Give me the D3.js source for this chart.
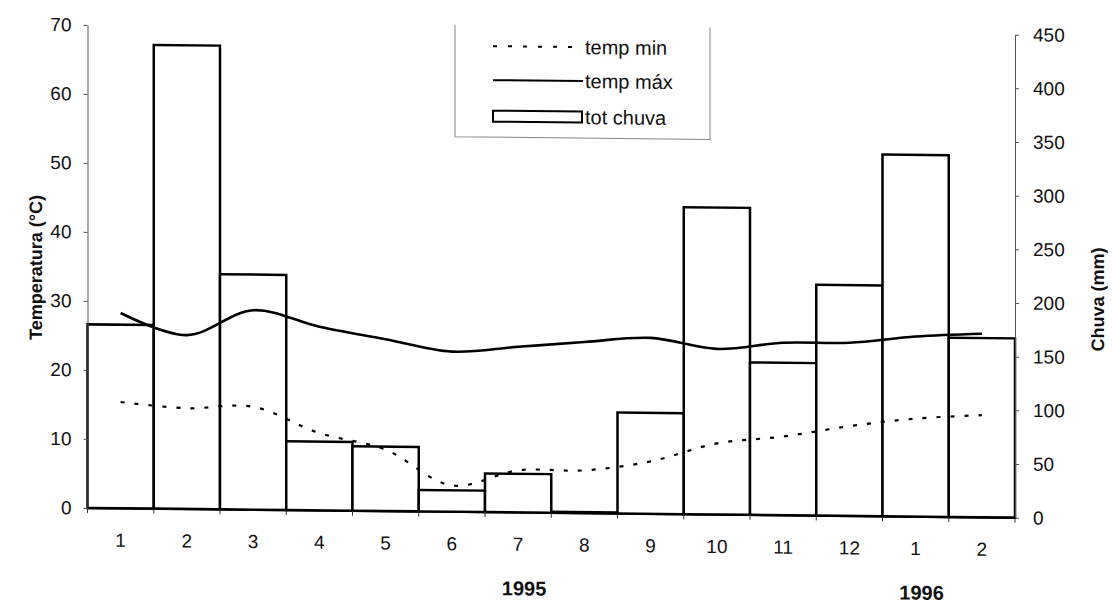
<!DOCTYPE html>
<html><head><meta charset="utf-8">
<script src="https://cdn.jsdelivr.net/npm/d3@7"></script>
<style>
body{margin:0;background:#fff}
svg{display:block}
text{font-family:"Liberation Sans",Arial,sans-serif;fill:#111}
</style>
</head><body>
<svg id="chart" width="1112" height="603"></svg>
<script>
// ---- data ----
const monthLabels = ["1","2","3","4","5","6","7","8","9","10","11","12","1","2"];
const tempMin = [15.4,14.6,14.9,11.2,8.9,3.8,6.1,6.2,7.6,10.3,11.4,13.0,14.2,14.8];
const tempMax = [28.3,25.2,28.9,26.6,24.9,23.2,24.0,24.8,25.5,24.0,25.0,25.1,26.1,26.6];
const rain    = [171,432,219,64,60,20,36,1,94,286,142,215,337,167];
const tempTicks = [0,10,20,30,40,50,60,70];
const rainTicks = [0,50,100,150,200,250,300,350,400,450];
const yearLabels = ["1995","1996"];
const yearMonthIndex = [6,12];
const legendLabels = ["temp min","temp máx","tot chuva"];

// ---- layout ----
const L = 87.5, R = 1015, T = 24, B = 507;
const svg = d3.select("#chart");
const g = svg.append("g").attr("transform","skewY(0.6)");

const x = d3.scaleBand().domain(d3.range(monthLabels.length)).range([L,R]).padding(0);
const yT = d3.scaleLinear().domain([0,70]).range([B,T]);
const yR = d3.scaleLinear().domain([0,450]).range([B,T]);
const cx = i => x(i) + x.bandwidth()/2;

// bars
g.append("g").selectAll("rect").data(rain).join("rect")
  .attr("x",(d,i)=>x(i)).attr("y",d=>yR(d))
  .attr("width",x.bandwidth()).attr("height",d=>B-yR(d))
  .attr("fill","#fff").attr("stroke","#000").attr("stroke-width",2.5);

// left axis
const axL = g.append("g").attr("transform",`translate(${L},0)`)
  .call(d3.axisLeft(yT).tickValues(tempTicks).tickSize(4).tickSizeOuter(0).tickPadding(12));
axL.select(".domain").attr("stroke","#555");
axL.selectAll(".tick line").attr("stroke","#555");
axL.selectAll("text").attr("font-size",19).attr("font-family","Liberation Sans, Arial, sans-serif");

// right axis
const axR = g.append("g").attr("transform",`translate(${R},0)`)
  .call(d3.axisRight(yR).tickValues(rainTicks).tickSize(4).tickSizeOuter(0).tickPadding(14));
axR.select(".domain").attr("stroke","#555");
axR.selectAll(".tick line").attr("stroke","#555");
axR.selectAll("text").attr("font-size",19).attr("font-family","Liberation Sans, Arial, sans-serif");

// bottom axis
const axB = g.append("g").attr("transform",`translate(0,${B})`)
  .call(d3.axisBottom(x).tickFormat(i=>monthLabels[i]).tickSize(0).tickSizeOuter(0).tickPadding(25));
axB.select(".domain").attr("stroke","#000").attr("stroke-width",1.5);
axB.selectAll("text").attr("font-size",19).attr("font-family","Liberation Sans, Arial, sans-serif");
g.append("g").selectAll("line").data(d3.range(monthLabels.length+1)).join("line")
  .attr("x1",k=>L+k*x.bandwidth()).attr("x2",k=>L+k*x.bandwidth())
  .attr("y1",B).attr("y2",B+5).attr("stroke","#333").attr("stroke-width",1);

// year labels
g.append("g").selectAll("text").data(yearLabels).join("text")
  .attr("x",(d,i)=>cx(yearMonthIndex[i])+6).attr("y",590)
  .attr("text-anchor","middle").attr("font-weight","bold").attr("font-size",20)
  .text(d=>d);

// lines
const line = d3.line().x((d,i)=>cx(i)).y(d=>yT(d)).curve(d3.curveCatmullRom.alpha(0.5));
g.append("path").datum(tempMax).attr("d",line)
  .attr("fill","none").attr("stroke","#000").attr("stroke-width",2.6);
g.append("path").datum(tempMin).attr("d",line)
  .attr("fill","none").attr("stroke","#000").attr("stroke-width",2.2).attr("stroke-dasharray","4,10");

// axis titles
g.append("text").attr("transform","translate(36,267) rotate(-90)")
  .attr("text-anchor","middle").attr("dy","0.35em").attr("font-weight","bold").attr("font-size",18)
  .text("Temperatura (°C)");
g.append("text").attr("transform","translate(1098,288) rotate(-90)")
  .attr("text-anchor","middle").attr("dy","0.35em").attr("font-weight","bold").attr("font-size",18)
  .text("Chuva (mm)");

// legend
const lg = g.append("g");
lg.append("path").attr("d","M455,20 V132 H710 V20").attr("fill","none").attr("stroke","#888").attr("stroke-width",1);
const ly = [41,75,111];
lg.append("line").attr("x1",493).attr("x2",583).attr("y1",ly[0]).attr("y2",ly[0])
  .attr("stroke","#000").attr("stroke-width",2).attr("stroke-dasharray","4,11");
lg.append("line").attr("x1",493).attr("x2",583).attr("y1",ly[1]).attr("y2",ly[1])
  .attr("stroke","#000").attr("stroke-width",2);
lg.append("rect").attr("x",493).attr("y",ly[2]-5.5).attr("width",89).attr("height",11)
  .attr("fill","#fff").attr("stroke","#000").attr("stroke-width",2);
lg.selectAll("text.lt").data(legendLabels).join("text").attr("class","lt")
  .attr("x",585).attr("y",(d,i)=>ly[i]).attr("dy","0.35em").attr("font-size",20).text(d=>d);
</script>
</body></html>
